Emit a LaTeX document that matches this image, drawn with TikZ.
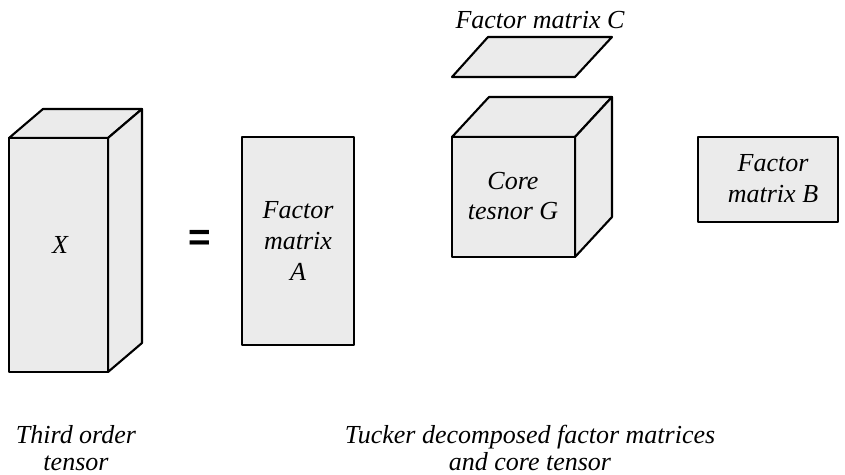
\documentclass[tikz,border=0pt]{standalone}
\usepackage{fontspec}
\setmainfont{Liberation Serif}
\newfontfamily\eqfont{Liberation Sans}
\usetikzlibrary{positioning}
\definecolor{boxgray}{RGB}{235,235,235}
\tikzset{
  face/.style={draw=black, fill=boxgray, line width=1.2pt, line join=round},
  lbl/.style={font=\itshape\fontsize{14.8}{17.5}\selectfont, align=center},
  captxt/.style={font=\itshape\fontsize{14.8}{15}\selectfont, align=center, inner sep=1pt},
}

\begin{document}
\begin{tikzpicture}[x=0.02cm, y=-0.02cm]
  \useasboundingbox (0,0) rectangle (845,475);

  % third order tensor X
  \draw[face] (9,138) -- (43,109) -- (142,109) -- (108,138) -- cycle;
  \draw[face] (108,138) -- (142,109) -- (142,343) -- (108,372) -- cycle;
  \draw[face] (9,138) rectangle (108,372);
  \node[lbl] (x) at (60,245) {X};

  % equals sign
  \node[font=\eqfont\bfseries\fontsize{22}{22}\selectfont] (eq) at (200,240) {=};

  % factor matrix A
  \draw[face] (242,137) rectangle (354,345);
  \node[lbl] (a) at (298,241) {Factor\\matrix\\A};

  % factor matrix C (flat slab on top)
  \draw[face] (452,77) -- (488,37) -- (612,37) -- (575,77) -- cycle;
  \node[lbl] (c) at (540,20) {Factor matrix C};

  % core tensor G
  \draw[face] (452,137) -- (489,97) -- (612,97) -- (575,137) -- cycle;
  \draw[face] (575,137) -- (612,97) -- (612,217) -- (575,257) -- cycle;
  \draw[face] (452,137) rectangle (575,257);
  \node[lbl] (g) at (513,196) {Core\\tesnor G};

  % factor matrix B
  \draw[face] (698,137) rectangle (838,222);
  \node[lbl] (b) at (773,179) {Factor\\matrix B};

  % captions
  \node[captxt] (capx) at (76,448) {Third order\\tensor};
  \node[captxt] (capt) at (530,448) {Tucker decomposed factor matrices\\and core tensor};
\end{tikzpicture}
\end{document}
